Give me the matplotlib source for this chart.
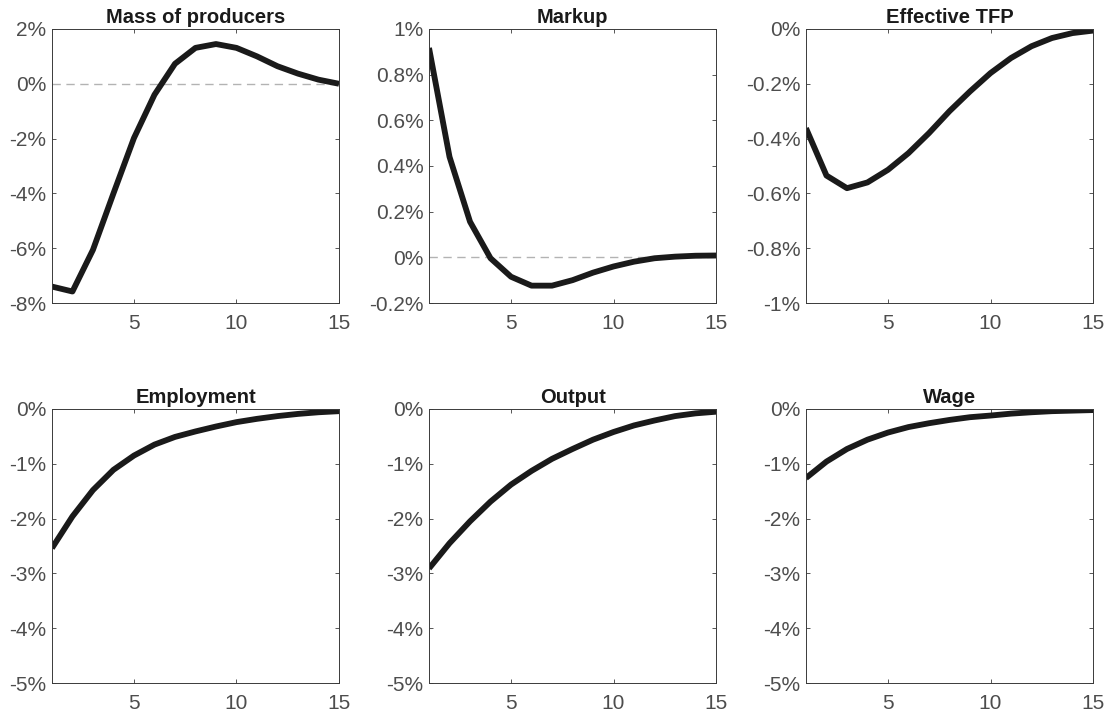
import numpy as np
import matplotlib
matplotlib.use('Agg')
import matplotlib.pyplot as plt
from matplotlib.ticker import FuncFormatter

plt.rcParams['font.family'] = ['Liberation Sans', 'DejaVu Sans']

periods = np.arange(1, 16)

mass = [-7.40, -7.58, -6.06, -4.0, -1.98, -0.40, 0.73, 1.31, 1.45, 1.31,
        1.0, 0.64, 0.37, 0.15, 0.0]
markup = [0.917, 0.44, 0.156, -0.004, -0.085, -0.124, -0.124, -0.10, -0.067,
          -0.04, -0.019, -0.004, 0.003, 0.007, 0.008]
tfp = [-0.362, -0.535, -0.581, -0.56, -0.514, -0.453, -0.38, -0.30, -0.228,
       -0.161, -0.106, -0.063, -0.033, -0.015, -0.006]
employment = [-2.54, -1.96, -1.48, -1.11, -0.85, -0.65, -0.51, -0.41, -0.32,
              -0.24, -0.18, -0.13, -0.09, -0.06, -0.04]
output = [-2.91, -2.45, -2.05, -1.69, -1.38, -1.13, -0.91, -0.73, -0.56,
          -0.42, -0.30, -0.21, -0.13, -0.08, -0.05]
wage = [-1.26, -0.96, -0.73, -0.56, -0.43, -0.33, -0.26, -0.20, -0.15,
        -0.12, -0.085, -0.06, -0.04, -0.03, -0.02]

titles = ['Mass of producers', 'Markup', 'Effective TFP',
          'Employment', 'Output', 'Wage']
series = [mass, markup, tfp, employment, output, wage]
ylims = [(-8, 2), (-0.2, 1), (-1, 0), (-5, 0), (-5, 0), (-5, 0)]
ysteps = [2, 0.2, 0.2, 1, 1, 1]
zero_line = [True, True, False, False, False, False]


def pct(v, pos):
    s = '%g' % round(v, 4)
    if s == '-0':
        s = '0'
    return s + '%'


fig = plt.figure(figsize=(11.1, 7.17), dpi=100)
lefts = [0.0468, 0.3865, 0.7261]
bottoms = [0.5774, 0.0474]
w, h = 0.2586, 0.3822
axc = '#3a3a3a'
for i in range(6):
    ax = fig.add_axes([lefts[i % 3], bottoms[i // 3], w, h])
    lo, hi = ylims[i]
    if zero_line[i]:
        ax.axhline(0, color='#b3b3b3', lw=1, ls=(0, (6, 4)))
    ax.plot(periods, series[i], color='#1a1a1a', lw=4.2, solid_capstyle='butt')
    ax.set_xlim(1, 15)
    ax.set_ylim(lo, hi)
    ax.set_xticks([5, 10, 15])
    ax.set_yticks(np.arange(lo, hi + ysteps[i] / 2, ysteps[i]))
    ax.yaxis.set_major_formatter(FuncFormatter(pct))
    ax.tick_params(direction='in', top=True, right=True, length=3,
                   width=0.6, colors=axc, labelsize=15, labelcolor='#4d4d4d')
    ax.tick_params(axis='x', pad=8)
    ax.tick_params(axis='y', pad=4)
    for sp in ax.spines.values():
        sp.set_color(axc)
        sp.set_linewidth(0.7)
    ax.set_title(titles[i], fontsize=14.5, fontweight='bold', color='#1a1a1a', pad=4)

fig.savefig('out.png', dpi=100)
